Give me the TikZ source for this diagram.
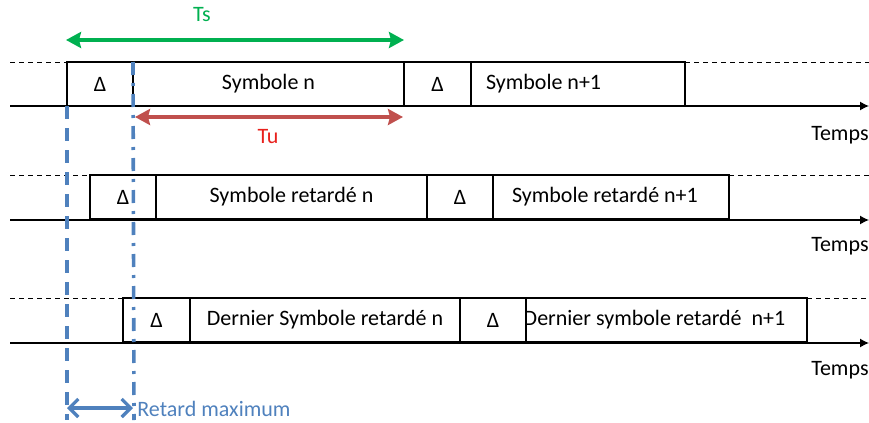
\documentclass[tikz,border=0pt]{standalone}
\usepackage{fontspec}
\setmainfont{Carlito}
\usepackage{xcolor}
\usepackage{tikz}
\usetikzlibrary{arrows.meta,positioning}
\definecolor{tsgreen}{HTML}{00B050}
\definecolor{tured}{HTML}{C0504D}
\definecolor{tulabel}{HTML}{E8201C}
\definecolor{delayblue}{HTML}{4F81BD}
\tikzset{
	cell/.style =
    {
			draw, line width = 0.6pt,
			anchor = north west,
			inner sep = 0pt, outer sep = 0pt,
			minimum height = 22pt,
			minimum width = #1
    },
	lead/.style = {line width = 0.5pt, dash pattern = on 2.5pt off 2pt},
	time axis/.style = {line width = 0.6pt, -{Latex[length = 4.5pt, width = 4.5pt]}},
	span arrow/.style = {line width = 2.3pt, {Stealth[length = 7.5pt, width = 8pt, inset = 1pt]}-{Stealth[length = 7.5pt, width = 8pt, inset = 1pt]}}
}

\begin{document}
\begin{tikzpicture}[x = 0.5pt, y = -0.5pt, font = \fontsize{11}{13}\selectfont]
        \useasboundingbox (0,0) rectangle (869,423);

        % Row 1
        \node (delta_1) [cell = 33pt] at (67,62) {Δ};
        \node (sym_n) [cell = 135.5pt, right = 0pt of delta_1] {Symbole n};
        \node (delta_1b) [cell = 33.5pt, right = 0pt of sym_n] {Δ};
        \node (sym_n1) [cell = 107pt, right = 0pt of delta_1b, text width = 92pt, inner xsep = 7.5pt, align = flush left] {Symbole n+1};

        % Row 2
        \node (delta_2) [cell = 33pt] at (90,175) {Δ};
        \node (ret_n) [cell = 135.5pt, right = 0pt of delta_2] {Symbole retardé n};
        \node (delta_2b) [cell = 33pt, right = 0pt of ret_n] {Δ};
        \node (ret_n1) [cell = 118pt, right = 0pt of delta_2b, text width = 99pt, inner xsep = 9.5pt, align = flush left] {Symbole retardé n+1};

        % Row 3
        \node (delta_3) [cell = 33.5pt] at (123,298) {Δ};
        \node (last_n) [cell = 135pt, right = 0pt of delta_3] {Dernier Symbole retardé n};
        \node (delta_3b) [cell = 33pt, right = 0pt of last_n] {Δ};
        \node (last_n1) [cell = 140.5pt, right = 0pt of delta_3b] {\hspace*{-6pt}Dernier symbole retardé\ \ n+1\hspace*{6pt}};

        % Axes
        \coordinate (lead_1) at (10,62);
        \coordinate (tail_1) at (869,62);
        \coordinate (axis_start_1) at (10,106);
        \coordinate (axis_end_1) at (869,106);
        \coordinate (lead_2) at (10,175);
        \coordinate (tail_2) at (869,175);
        \coordinate (axis_start_2) at (10,220);
        \coordinate (axis_end_2) at (869,220);
        \coordinate (lead_3) at (10,298);
        \coordinate (tail_3) at (869,298);
        \coordinate (axis_start_3) at (10,343);
        \coordinate (axis_end_3) at (869,343);

        \draw [lead] (lead_1) -- (delta_1.north west);
        \draw [lead] (sym_n1.north east) -- (tail_1);
        \draw [time axis] (axis_start_1) -- (axis_end_1);
        \draw [lead] (lead_2) -- (delta_2.north west);
        \draw [lead] (ret_n1.north east) -- (tail_2);
        \draw [time axis] (axis_start_2) -- (axis_end_2);
        \draw [lead] (lead_3) -- (delta_3.north west);
        \draw [lead] (last_n1.north east) -- (tail_3);
        \draw [time axis] (axis_start_3) -- (axis_end_3);

        \node (temps_1) [anchor = east, inner sep = 0pt] at (869,135) {Temps};
        \node (temps_2) [anchor = east, inner sep = 0pt] at (869,246) {Temps};
        \node (temps_3) [anchor = east, inner sep = 0pt] at (869,370) {Temps};

        % Ts and Tu
        \coordinate (ts_left) at (66,40);
        \coordinate (ts_right) at (404,40);
        \coordinate (tu_left) at (135,117);
        \coordinate (tu_right) at (403,117);
        \draw [span arrow, tsgreen] (ts_left) -- (ts_right);
        \draw [span arrow, tured] (tu_left) -- (tu_right);
        \node (ts_label) [text = tsgreen] at (202,15) {Ts};
        \node (tu_label) [text = tulabel] at (268,137) {Tu};

        % Maximum delay
        \coordinate (guard_end) at (67,420);
        \coordinate (cp_end) at (134,420);
        \draw [delayblue, line width = 1.8pt, dash pattern = on 6.5pt off 4.5pt] (delta_1.south west) -- (guard_end);
        \draw [delayblue, line width = 1.8pt, dash pattern = on 6.5pt off 4pt on 1.5pt off 4pt] (sym_n.north west) -- (cp_end);
        \coordinate (delay_left) at (67,408);
        \coordinate (delay_right) at (133,408);
        \draw [delayblue, line width = 1.6pt, {Straight Barb[length = 4.5pt, width = 9pt]}-{Straight Barb[length = 4.5pt, width = 9pt]}] (delay_left) -- (delay_right);
        \node (delay_label) [anchor = west, inner sep = 0pt, text = delayblue] at (137,409) {Retard maximum};
    \end{tikzpicture}
\end{document}
